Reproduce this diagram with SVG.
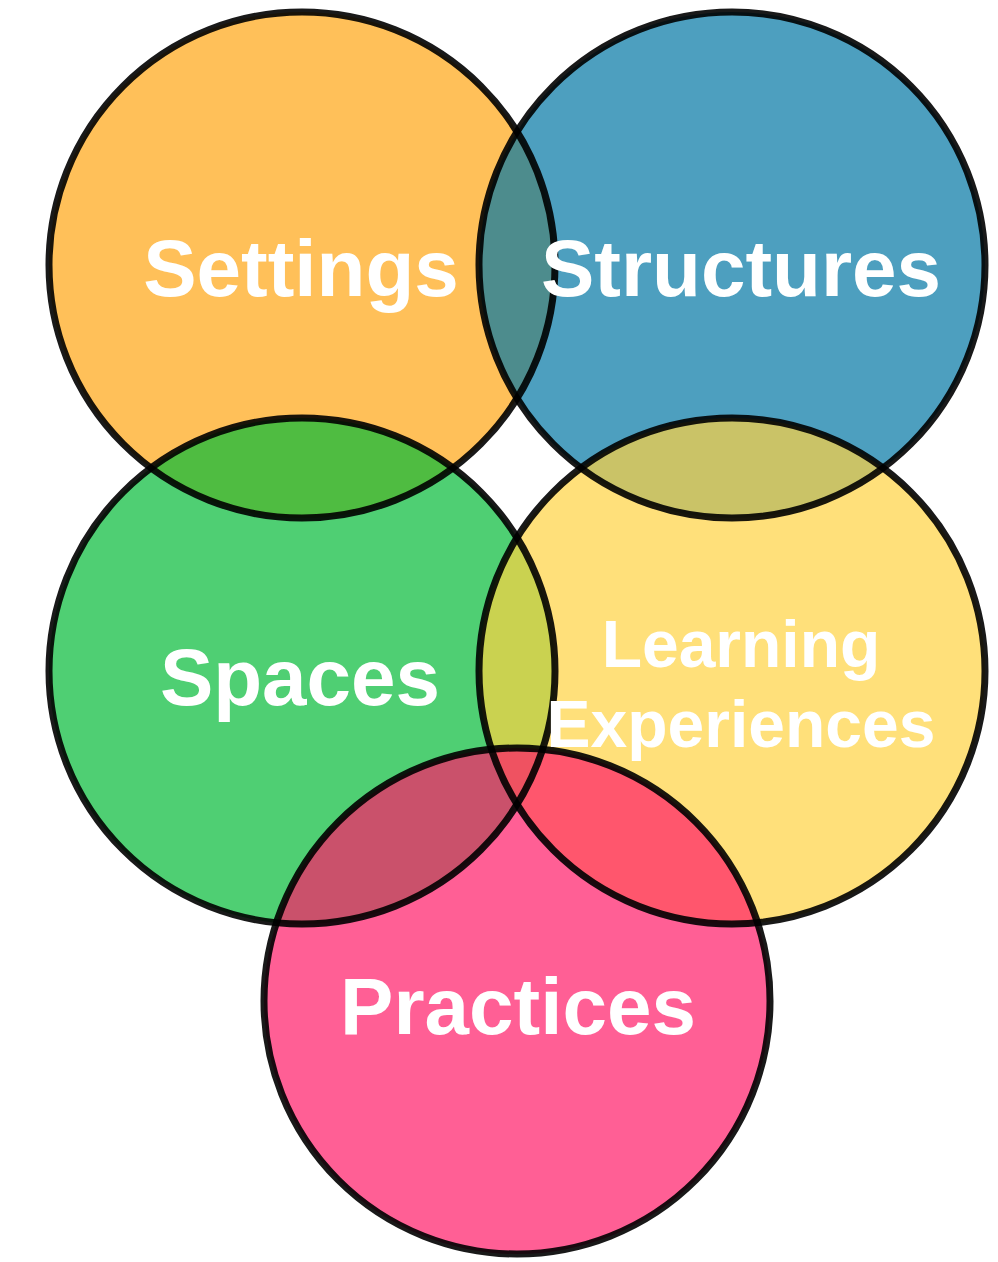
<svg xmlns="http://www.w3.org/2000/svg" width="998" height="1262" viewBox="0 0 998 1262">
  <style>
    .fill { fill-opacity: 0.7; stroke: none; }
    .outline { fill: none; stroke: #000; stroke-opacity: 0.9; stroke-width: 7; }
    .label { font-family: "Liberation Sans", Arial, sans-serif; font-weight: bold; fill: #fff; text-anchor: middle; }
    .big { font-size: 80px; }
    .small { font-size: 66px; }
  </style>
  <rect width="998" height="1262" fill="#fff"/>
  <g id="nodes">
    <g id="node-settings"><circle class="fill" cx="302" cy="265" r="253" fill="#FFA513"/></g>
    <g id="node-structures"><circle class="fill" cx="732" cy="265" r="253" fill="#0276A4"/></g>
    <g id="node-spaces"><circle class="fill" cx="302" cy="671" r="253" fill="#04BA37"/></g>
    <g id="node-learning-experiences"><circle class="fill" cx="732" cy="671" r="253" fill="#FFD341"/></g>
    <g id="node-practices"><circle class="fill" cx="517" cy="1001" r="253" fill="#FF1B68"/></g>
  </g>
  <g id="outlines">
    <circle class="outline" cx="302" cy="265" r="253"/>
    <circle class="outline" cx="732" cy="265" r="253"/>
    <circle class="outline" cx="302" cy="671" r="253"/>
    <circle class="outline" cx="732" cy="671" r="253"/>
    <circle class="outline" cx="517" cy="1001" r="253"/>
  </g>
  <g id="labels">
    <text id="label-settings" class="label big" x="301" y="296">Settings</text>
    <text id="label-structures" class="label big" x="741" y="296">Structures</text>
    <text id="label-spaces" class="label big" x="300" y="705">Spaces</text>
    <text id="label-learning-experiences" class="label small" x="741" y="667">Learning<tspan x="741" y="747">Experiences</tspan></text>
    <text id="label-practices" class="label big" x="518" y="1034">Practices</text>
  </g>
</svg>
